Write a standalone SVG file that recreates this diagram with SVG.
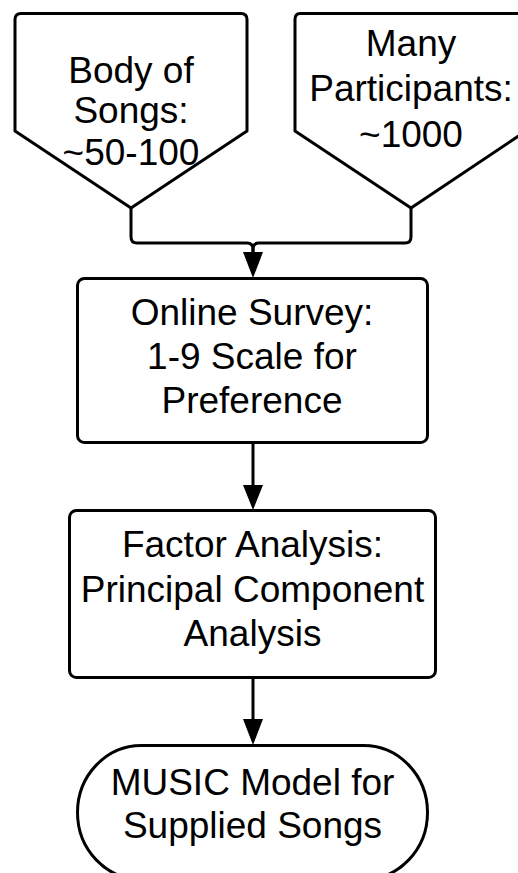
<svg xmlns="http://www.w3.org/2000/svg" width="518" height="873" viewBox="0 0 518 873">
<style>
.s{fill:#fff;stroke:#000;stroke-width:3;stroke-linejoin:round}
.c{fill:none;stroke:#000;stroke-width:3}
.a{fill:#000}
text{font-family:"Liberation Sans",Arial,sans-serif;font-size:37px;fill:#000;text-anchor:middle}
</style>
<g id="connectors">
<path class="c" d="M131,208 V237 Q131,243 137,243 H247 Q253,243 253,249 V252"/>
<path class="c" d="M411,208 V237 Q411,243 405,243 H259 Q253,243 253,249 V252"/>
<path class="a" d="M243,252 L263,252 L253,278 Z"/>
<path class="c" d="M253,443 V486"/>
<path class="a" d="M243,485 L263,485 L253,510 Z"/>
<path class="c" d="M253,678 V720"/>
<path class="a" d="M243,719 L263,719 L253,745 Z"/>
</g>
<g id="body-of-songs">
<path class="s" d="M21,13.5 H241 Q247,13.5 247,19.5 V131 L131,208 L15,131 V19.5 Q15,13.5 21,13.5 Z"/>
<text x="131" y="83">Body of</text>
<text x="131" y="123">Songs:</text>
<text x="131" y="165">~50-100</text>
</g>
<g id="many-participants">
<path class="s" d="M300,13.5 H520 Q526,13.5 526,19.5 V131 L411,208 L295,131 V19.5 Q295,13.5 300,13.5 Z"/>
<text x="411" y="56">Many</text>
<text x="411" y="101">Participants:</text>
<text x="411" y="147">~1000</text>
</g>
<g id="online-survey">
<rect class="s" x="77.5" y="278.5" width="350" height="164" rx="7"/>
<text x="252" y="325">Online Survey:</text>
<text x="252" y="369">1-9 Scale for</text>
<text x="252" y="413">Preference</text>
</g>
<g id="factor-analysis">
<rect class="s" x="69.5" y="510.5" width="366" height="167" rx="7"/>
<text x="252.5" y="557">Factor Analysis:</text>
<text x="252.5" y="602">Principal Component</text>
<text x="252.5" y="646">Analysis</text>
</g>
<g id="music-model">
<rect class="s" x="77.5" y="745.5" width="350" height="134" rx="64" ry="67"/>
<text x="252.5" y="795">MUSIC Model for</text>
<text x="252.5" y="838">Supplied Songs</text>
</g>
</svg>
